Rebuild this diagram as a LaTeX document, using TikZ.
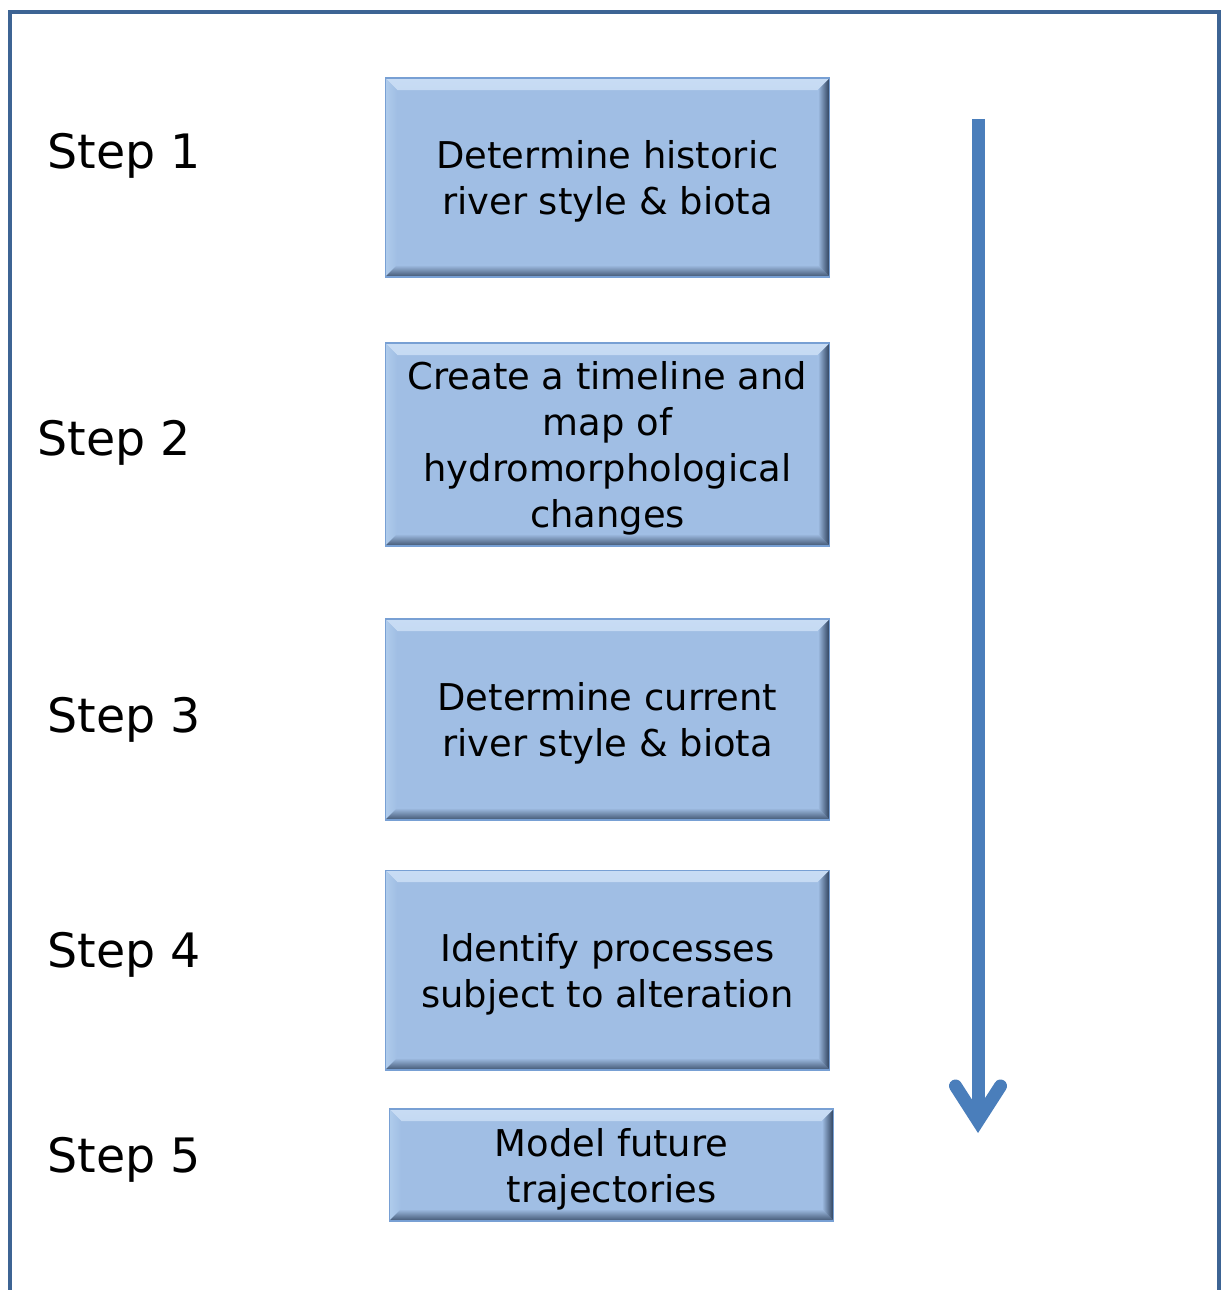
\documentclass[tikz,border=0pt]{standalone}
\usepackage{fontspec}
\setmainfont{DejaVu Sans}
\usetikzlibrary{arrows.meta}
\definecolor{framecol}{RGB}{61,100,148}
\definecolor{boxfill}{RGB}{160,190,228}
\definecolor{boxedge}{RGB}{120,160,212}
\definecolor{bevtop}{RGB}{200,220,244}
\definecolor{bevleft}{RGB}{176,204,236}
\definecolor{bevdark}{RGB}{40,58,84}
\definecolor{flowcol}{RGB}{74,126,187}
\newcommand{\boxlines}[1]{\raisebox{-0.1cm}[\height][\depth]{\begin{tabular}{@{}c@{}}#1\end{tabular}}}
\tikzset{
  frame/.style={draw=framecol,line width=0.08cm},
  steplabel/.style={anchor=west,inner sep=0pt,font=\fontsize{27}{32}\selectfont},
  stepbox/.style={draw=boxedge,line width=0.6pt,fill=boxfill,inner sep=0pt,
    minimum width=8.9cm,minimum height=3.98cm,align=center,
    font=\fontsize{21}{26.2}\selectfont,
    path picture={
      \def\pb{path picture bounding box}
      \shade[top color=bevtop,bottom color=boxfill] (\pb.north west) -- (\pb.north east)
        -- ([xshift=-0.24cm,yshift=-0.24cm]\pb.north east) -- ([xshift=0.24cm,yshift=-0.24cm]\pb.north west) -- cycle;
      \shade[left color=bevleft,right color=boxfill] (\pb.north west) -- ([xshift=0.24cm,yshift=-0.24cm]\pb.north west)
        -- ([xshift=0.24cm,yshift=0.24cm]\pb.south west) -- (\pb.south west) -- cycle;
      \shade[top color=boxfill,bottom color=bevdark!80!boxfill] (\pb.south west) -- ([xshift=0.24cm,yshift=0.24cm]\pb.south west)
        -- ([xshift=-0.24cm,yshift=0.24cm]\pb.south east) -- (\pb.south east) -- cycle;
      \shade[left color=boxfill,right color=bevdark] (\pb.north east) -- ([xshift=-0.24cm,yshift=-0.24cm]\pb.north east)
        -- ([xshift=-0.24cm,yshift=0.24cm]\pb.south east) -- (\pb.south east) -- cycle;
    }},
  smallbox/.style={stepbox,minimum height=2.24cm},
  flow/.style={draw=flowcol,line width=0.26cm,
    -{Straight Barb[length=0.7cm,width=0.9cm,line cap=round]}}
}
\begin{document}
\begin{tikzpicture}[x=0.02cm,y=-0.02cm]
	\useasboundingbox (0,0) rectangle (1222,1290);
	\draw[frame] (10,1295) -- (10,12) -- (1219,12) -- (1219,1295);
	% step labels
	\node[steplabel] (s1) at (47,156) {Step 1};
	\node[steplabel] (s2) at (37,443) {Step 2};
	\node[steplabel] (s3) at (47,720) {Step 3};
	\node[steplabel] (s4) at (47,955) {Step 4};
	\node[steplabel] (s5) at (47,1160) {Step 5};
	% boxes
	\node[stepbox] (b1) at (607.5,177.5) {\boxlines{Determine historic\\river style \& biota}};
	\node[stepbox,minimum height=4.06cm] (b2) at (607.5,444.5) {\boxlines{Create a timeline and\\map of\\hydromorphological\\changes}};
	\node[stepbox,minimum height=4.02cm] (b3) at (607.5,719.5) {\boxlines{Determine current\\river style \& biota}};
	\node[stepbox,minimum height=4cm] (b4) at (607.5,970) {\boxlines{Identify processes\\subject to alteration}};
	\node[smallbox] (b5) at (611.5,1165) {\boxlines{Model future\\trajectories}};
	% direction arrow
	\coordinate (top) at (978,119);
	\coordinate (tip) at (978,1133);
	\draw[flow] (top) -- (tip);
\end{tikzpicture}
\end{document}
